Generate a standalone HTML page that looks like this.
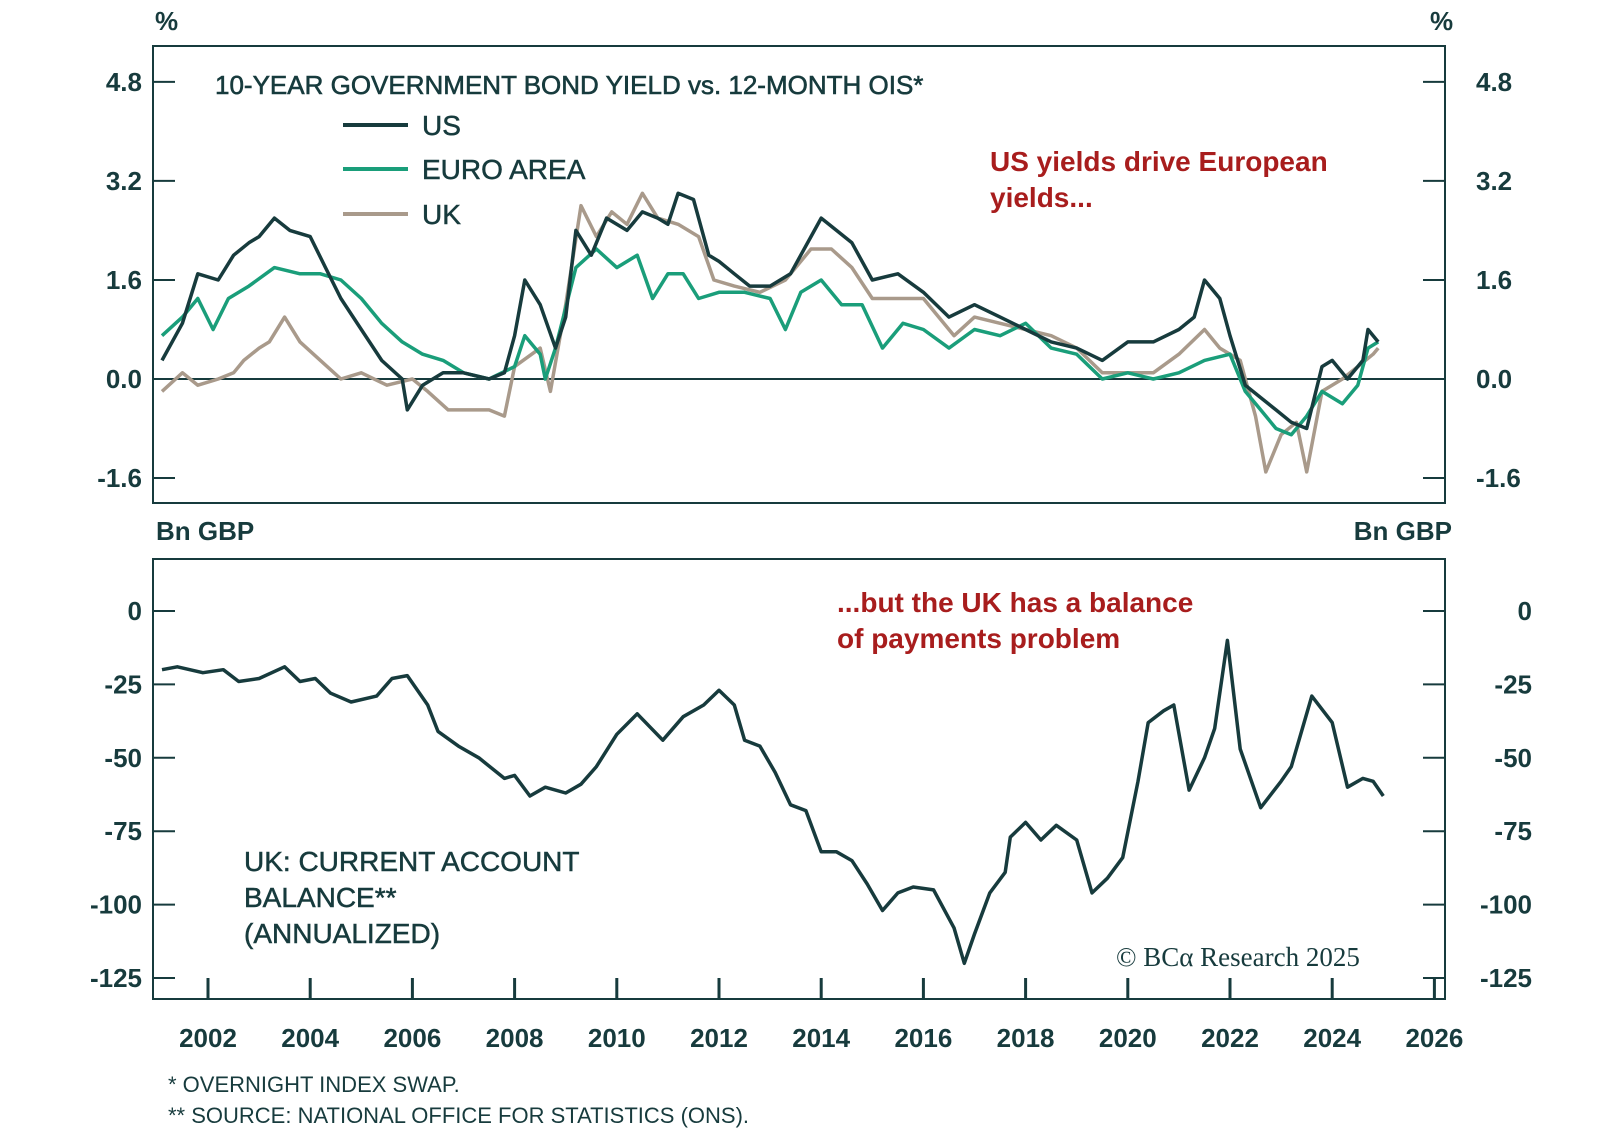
<!DOCTYPE html>
<html><head><meta charset="utf-8"><style>
html,body{margin:0;padding:0;background:#fff;}
svg{display:block;font-family:"Liberation Sans",sans-serif;}
</style></head><body>
<svg id="c" width="1600" height="1137" viewBox="0 0 1600 1137"></svg>
<script>
const usYears=[2001.1,2001.5,2001.8,2002.2,2002.5,2002.8,2003.0,2003.3,2003.6,2004.0,2004.3,2004.6,2005.0,2005.4,2005.8,2005.9,2006.2,2006.6,2007.0,2007.5,2007.8,2008.0,2008.2,2008.5,2008.8,2009.0,2009.2,2009.5,2009.8,2010.2,2010.5,2010.8,2011.0,2011.2,2011.5,2011.8,2012.0,2012.3,2012.6,2013.0,2013.4,2013.8,2014.0,2014.3,2014.6,2015.0,2015.5,2016.0,2016.5,2017.0,2017.5,2018.0,2018.5,2019.0,2019.5,2020.0,2020.5,2021.0,2021.3,2021.5,2021.8,2022.0,2022.3,2022.6,2022.9,2023.2,2023.5,2023.8,2024.0,2024.3,2024.6,2024.7,2024.9];
const usVals=[0.3,0.9,1.7,1.6,2.0,2.2,2.3,2.6,2.4,2.3,1.8,1.3,0.8,0.3,0.0,-0.5,-0.1,0.1,0.1,0.0,0.1,0.7,1.6,1.2,0.5,1.0,2.4,2.0,2.6,2.4,2.7,2.6,2.5,3.0,2.9,2.0,1.9,1.7,1.5,1.5,1.7,2.3,2.6,2.4,2.2,1.6,1.7,1.4,1.0,1.2,1.0,0.8,0.6,0.5,0.3,0.6,0.6,0.8,1.0,1.6,1.3,0.7,-0.1,-0.3,-0.5,-0.7,-0.8,0.2,0.3,0.0,0.3,0.8,0.6];
const euYears=[2001.1,2001.5,2001.8,2002.1,2002.4,2002.8,2003.3,2003.8,2004.2,2004.6,2005.0,2005.4,2005.8,2006.2,2006.6,2007.0,2007.5,2008.0,2008.2,2008.5,2008.6,2008.8,2009.2,2009.6,2010.0,2010.4,2010.7,2011.0,2011.3,2011.6,2012.0,2012.5,2013.0,2013.3,2013.6,2014.0,2014.4,2014.8,2015.2,2015.6,2016.0,2016.5,2017.0,2017.5,2018.0,2018.5,2019.0,2019.5,2020.0,2020.5,2021.0,2021.5,2022.0,2022.3,2022.6,2022.9,2023.2,2023.5,2023.8,2024.2,2024.5,2024.7,2024.9];
const euVals=[0.7,1.0,1.3,0.8,1.3,1.5,1.8,1.7,1.7,1.6,1.3,0.9,0.6,0.4,0.3,0.1,0.0,0.2,0.7,0.4,0.0,0.5,1.8,2.1,1.8,2.0,1.3,1.7,1.7,1.3,1.4,1.4,1.3,0.8,1.4,1.6,1.2,1.2,0.5,0.9,0.8,0.5,0.8,0.7,0.9,0.5,0.4,0.0,0.1,0.0,0.1,0.3,0.4,-0.2,-0.5,-0.8,-0.9,-0.6,-0.2,-0.4,-0.1,0.5,0.6];
const ukYears=[2001.1,2001.5,2001.8,2002.2,2002.5,2002.7,2003.0,2003.2,2003.5,2003.8,2004.2,2004.6,2005.0,2005.5,2006.0,2006.3,2006.7,2007.0,2007.5,2007.8,2008.0,2008.5,2008.7,2009.0,2009.3,2009.6,2009.9,2010.2,2010.5,2010.8,2011.2,2011.6,2011.9,2012.3,2012.8,2013.3,2013.8,2014.2,2014.6,2015.0,2015.5,2016.0,2016.6,2017.0,2017.5,2018.0,2018.5,2019.0,2019.5,2020.0,2020.5,2021.0,2021.5,2021.8,2022.2,2022.5,2022.7,2023.0,2023.3,2023.5,2023.8,2024.2,2024.5,2024.8,2024.9];
const ukVals=[-0.2,0.1,-0.1,0.0,0.1,0.3,0.5,0.6,1.0,0.6,0.3,0.0,0.1,-0.1,0.0,-0.2,-0.5,-0.5,-0.5,-0.6,0.2,0.5,-0.2,1.2,2.8,2.3,2.7,2.5,3.0,2.6,2.5,2.3,1.6,1.5,1.4,1.6,2.1,2.1,1.8,1.3,1.3,1.3,0.7,1.0,0.9,0.8,0.7,0.5,0.1,0.1,0.1,0.4,0.8,0.5,0.3,-0.6,-1.5,-0.9,-0.7,-1.5,-0.2,0.0,0.2,0.4,0.5];
const caYears=[2001.1,2001.4,2001.9,2002.3,2002.6,2003.0,2003.5,2003.8,2004.1,2004.4,2004.8,2005.3,2005.6,2005.9,2006.3,2006.5,2006.9,2007.3,2007.8,2008.0,2008.3,2008.6,2009.0,2009.3,2009.6,2010.0,2010.4,2010.9,2011.3,2011.7,2012.0,2012.3,2012.5,2012.8,2013.1,2013.4,2013.7,2014.0,2014.3,2014.6,2014.9,2015.2,2015.5,2015.8,2016.2,2016.6,2016.8,2017.0,2017.3,2017.6,2017.7,2018.0,2018.3,2018.6,2019.0,2019.3,2019.6,2019.9,2020.2,2020.4,2020.7,2020.9,2021.2,2021.5,2021.7,2021.95,2022.2,2022.6,2023.0,2023.2,2023.6,2024.0,2024.3,2024.6,2024.8,2025.0];
const caVals=[-20,-19,-21,-20,-24,-23,-19,-24,-23,-28,-31,-29,-23,-22,-32,-41,-46,-50,-57,-56,-63,-60,-62,-59,-53,-42,-35,-44,-36,-32,-27,-32,-44,-46,-55,-66,-68,-82,-82,-85,-93,-102,-96,-94,-95,-108,-120,-110,-96,-89,-77,-72,-78,-73,-78,-96,-91,-84,-58,-38,-34,-32,-61,-50,-40,-10,-47,-67,-58,-53,-29,-38,-60,-57,-58,-63];
const topTicks=[4.8,3.2,1.6,0.0,-1.6];
const botTicks=[0,-25,-50,-75,-100,-125];
const xTicks=[2002,2004,2006,2008,2010,2012,2014,2016,2018,2020,2022,2024,2026];

const svg=document.getElementById('c');
const NS='http://www.w3.org/2000/svg';
const ink='#173b3d';
const X=y=>208+(y-2002)*51.1;
const YT=v=>379-v*61.9;
const YB=v=>611-v*2.936;
const L=153,R=1445;
function el(tag,attrs,parent){const e=document.createElementNS(NS,tag);for(const k in attrs)e.setAttribute(k,attrs[k]);(parent||svg).appendChild(e);return e;}
function txt(s,x,y,attrs){const e=el('text',Object.assign({x:x,y:y,fill:ink,'font-size':26},attrs||{}));e.textContent=s;return e;}

const f1=el('rect',{x:L,y:46,width:R-L,height:457,fill:'none',stroke:ink,'stroke-width':2});

const f2=el('rect',{x:L,y:559,width:R-L,height:440,fill:'none',stroke:ink,'stroke-width':2});

const z=el('line',{x1:L,x2:R,y1:YT(0),y2:YT(0),stroke:ink,'stroke-width':2});


topTicks.forEach(v=>{
  const y=YT(v);
  el('line',{x1:L,x2:L+22,y1:y,y2:y,stroke:ink,'stroke-width':2});
  el('line',{x1:R-22,x2:R,y1:y,y2:y,stroke:ink,'stroke-width':2});
  const a=txt(v.toFixed(1),142,y+9,{'text-anchor':'end','font-weight':'bold'});
  
  const b=txt(v.toFixed(1),1476,y+9,{'font-weight':'bold'});
  
});
botTicks.forEach(v=>{
  const y=YB(v);
  el('line',{x1:L,x2:L+22,y1:y,y2:y,stroke:ink,'stroke-width':2});
  el('line',{x1:R-22,x2:R,y1:y,y2:y,stroke:ink,'stroke-width':2});
  const a=txt(String(v),142,y+9,{'text-anchor':'end','font-weight':'bold'});
  
  const b=txt(String(v),1532,y+9,{'text-anchor':'end','font-weight':'bold'});
  
});
xTicks.forEach(yr=>{
  const x=X(yr);
  el('line',{x1:x,x2:x,y1:999,y2:978,stroke:ink,'stroke-width':3});
  const t=txt(String(yr),x,1047,{'text-anchor':'middle','font-weight':'bold'});
  
});

function line(xs,vs,yf,color,name){
  const d=xs.map((x,i)=>(i?'L':'M')+X(x).toFixed(1)+','+yf(vs[i]).toFixed(1)).join('');
  const p=el('path',{d:d,fill:'none',stroke:color,'stroke-width':3.5,'stroke-linejoin':'round'});
  
}
line(ukYears,ukVals,YT,'#a99a8b','uk-line');
line(euYears,euVals,YT,'#1a9e7a','euro-area-line');
line(usYears,usVals,YT,ink,'us-line');
line(caYears,caVals,YB,ink,'current-account-line');

let t;
t=txt('%',155,30,{'font-weight':'bold'});
t=txt('%',1430,30,{'font-weight':'bold'});
t=txt('Bn GBP',156,540,{'font-weight':'bold'});
t=txt('Bn GBP',1452,540,{'font-weight':'bold','text-anchor':'end'});
t=txt('10-YEAR GOVERNMENT BOND YIELD vs. 12-MONTH OIS*',215,94,{'font-size':26,'stroke':ink,'stroke-width':0.6});
[['US',ink,125],['EURO AREA','#1a9e7a',169],['UK','#a99a8b',214]].forEach(([n,c,y])=>{
  const l=el('line',{x1:343,x2:408,y1:y,y2:y,stroke:c,'stroke-width':4});
  
  const s=txt(n,422,y+10,{'font-size':28,'stroke':ink,'stroke-width':0.5});
});
const red='#a81d1d';
t=txt('US yields drive European',990,171,{fill:red,'font-size':28,'font-weight':'bold'});
t=txt('yields...',990,207,{fill:red,'font-size':28,'font-weight':'bold'});
t=txt('...but the UK has a balance',837,612,{fill:red,'font-size':28,'font-weight':'bold'});
t=txt('of payments problem',837,648,{fill:red,'font-size':28,'font-weight':'bold'});
t=txt('UK: CURRENT ACCOUNT',244,871,{'font-size':28,'stroke':ink,'stroke-width':0.5});
t=txt('BALANCE**',244,907,{'font-size':28,'stroke':ink,'stroke-width':0.5});
t=txt('(ANNUALIZED)',244,943,{'font-size':28,'stroke':ink,'stroke-width':0.5});
t=txt('© BCα Research 2025',1116,966,{'font-size':27,'font-family':'"Liberation Serif",serif'});
t=txt('* OVERNIGHT INDEX SWAP.',168,1092,{'font-size':22});
t=txt('** SOURCE: NATIONAL OFFICE FOR STATISTICS (ONS).',168,1123,{'font-size':22});
</script>
</body></html>
